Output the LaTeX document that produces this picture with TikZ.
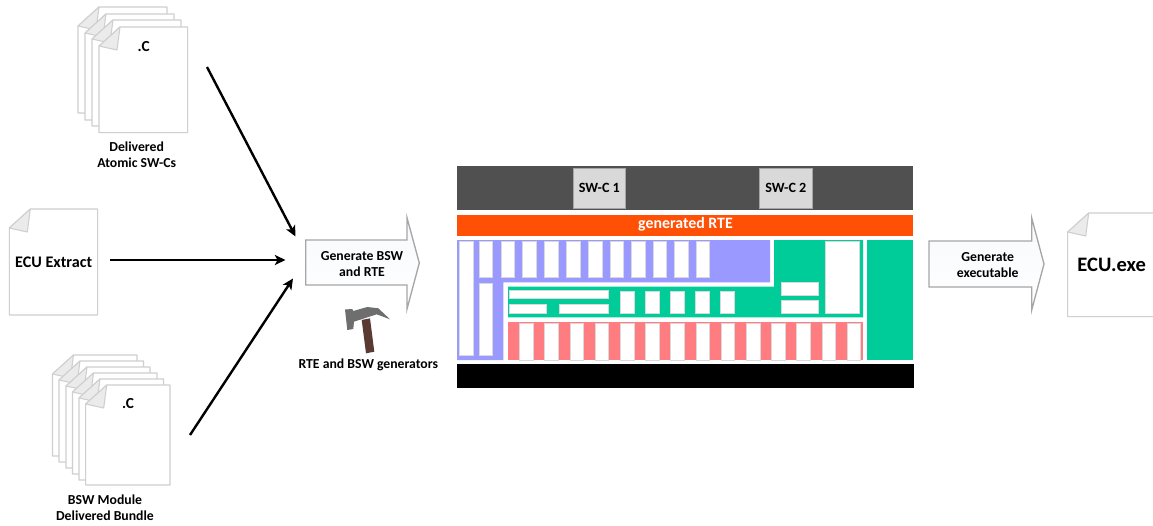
\documentclass[tikz,border=0pt]{standalone}
\usepackage{fontspec}
\setmainfont{Carlito}
\usetikzlibrary{arrows.meta}
\definecolor{sheetedge}{HTML}{CFCFCF}
\definecolor{foldfill}{HTML}{EBEBEB}
\definecolor{darkbar}{HTML}{505050}
\definecolor{swcfill}{HTML}{D9D9D9}
\definecolor{rteorange}{HTML}{FF5005}
\definecolor{bswblue}{HTML}{9999FF}
\definecolor{bswgreen}{HTML}{00CC99}
\definecolor{bswpink}{HTML}{FF7C80}
\definecolor{arrowedge}{HTML}{A6A6A6}
\definecolor{arrowfill}{HTML}{F7F9FC}
\definecolor{hammerhead}{HTML}{6E6E6E}
\definecolor{hammerhandle}{HTML}{5A3A32}
\tikzset{
  x=0.75pt,y=-0.75pt,
  sheet/.style={draw=sheetedge,fill=white,line width=0.8pt,line join=round},
  fold/.style={draw=sheetedge,fill=foldfill,line width=0.8pt,line join=round},
  flow/.style={draw=black,line width=1.8pt,-{Stealth[length=8pt,width=7.5pt,inset=2pt]}},
  blockarrow/.style={draw=arrowedge,line width=1pt,left color=arrowfill,right color=white,shading angle=0,line join=miter},
  cellbar/.style={fill=white,draw=swcfill,line width=0.35pt},
  lbl/.style={font=\fontsize{10.3}{12}\selectfont\bfseries,align=center,text=black,inner sep=0pt},
  swc/.style={fill=swcfill,draw=arrowedge,line width=0.6pt,minimum width=39.5pt,minimum height=30pt,inner sep=0pt,font=\fontsize{10.6}{12}\selectfont\bfseries},
}
% sheet: left, top, right, bottom
\newcommand{\papersheet}[4]{%
  \path[sheet] (#1+21,#2) -- (#3,#2) -- (#3,#4) -- (#1,#4) -- (#1,#2+19) -- cycle;
  \path[fold] (#1+21,#2) -- (#1,#2+19) -- (#1+18,#2+23) -- cycle;
}
\newcommand{\whitebar}[4]{\path[cellbar] (#1,#2) rectangle (#3,#4);}
\begin{document}
\begin{tikzpicture}
\useasboundingbox (0,0) rectangle (1153,525);
\path[fill=white] (0,0) rectangle (1153,525);

% Delivered Atomic SW-Cs
\papersheet{78}{7}{167}{113}
\papersheet{85}{14}{174}{120}
\papersheet{92}{20}{181}{126}
\papersheet{99}{27}{187.7}{132.7}
\node[lbl,font=\fontsize{11.5}{13}\selectfont\bfseries] (dotc1) at (143.7,47) {.C};
\node[lbl] (swcs) at (136.7,154.7) {Delivered\\Atomic SW-Cs};

% ECU Extract
\papersheet{9.3}{209}{97.7}{315}
\node[lbl,font=\fontsize{12.1}{14}\selectfont\bfseries] (extract) at (53.7,262) {ECU Extract};

% BSW bundle
\papersheet{52.5}{355}{137}{456}
\papersheet{59}{361}{143.5}{462}
\papersheet{66}{367}{150}{468}
\papersheet{72.5}{373}{157}{474}
\papersheet{79}{379}{163.5}{480}
\papersheet{85.7}{385}{170}{485}
\node[lbl,font=\fontsize{11.5}{13}\selectfont\bfseries] (dotc2) at (128,404) {.C};
\node[lbl] (bundle) at (105,508) {BSW Module\\Delivered Bundle};

% Connectors
\coordinate (a1s) at (207,67);
\coordinate (a1e) at (295.5,236.5);
\coordinate (a2s) at (110,260);
\coordinate (a2e) at (285.5,260);
\coordinate (a3s) at (190,435);
\coordinate (a3e) at (293,278.5);
\draw[flow] (a1s) -- (a1e);
\draw[flow] (a2s) -- (a2e);
\draw[flow] (a3s) -- (a3e);

% Generate BSW and RTE
\path[blockarrow] (305.7,240) -- (407,240) -- (407,217.7) -- (419.3,263) -- (407,309) -- (407,285) -- (305.7,285) -- cycle;
\node[lbl] (genbsw) at (362,263.7) {Generate BSW\\and RTE};

% Hammer
\path[fill=hammerhandle] (361.7,320) -- (370,318.3) -- (374.3,351.7) -- (366,353.3) -- cycle;
\path[fill=hammerhead] (345,309.5) -- (352.3,309) -- (353.3,311) -- (367.3,307) -- (378.3,308.3) -- (390,319.3) -- (376.7,314.3) -- (354,321.7) -- (353.3,329) -- (347.3,330) -- cycle;
\node[lbl] (gens) at (368.3,365) {RTE and BSW generators};

% Software stack
\path[fill=darkbar] (456.7,166) rectangle (913.3,210);
\node[swc] (swc1) at (599.3,188.3) {SW-C 1};
\node[swc] (swc2) at (785.8,188.3) {SW-C 2};
\path[fill=rteorange] (456.7,214.7) rectangle (913.3,236);
\node[font=\fontsize{11.9}{14}\selectfont\bfseries,text=white,inner sep=0pt] (rte) at (685.5,224.5) {generated RTE};

% blue block
\path[fill=bswblue] (457,240) -- (770,240) -- (770,282.3) -- (503.3,282.3) -- (503.3,360) -- (457,360) -- cycle;
\whitebar{459.7}{241.7}{473.3}{355}
\whitebar{479}{241.7}{492.7}{277.7}
\whitebar{479}{283.3}{492.7}{355}
\foreach \bx in {501,522.7,544.7,566.7,588.3,610,631.3,653,674.3,696}
  {\whitebar{\bx}{241.7}{\bx+13.6}{277.7}}

% green block
\path[fill=bswgreen] (508,286.7) -- (774,286.7) -- (774,240) -- (863,240) -- (863,317.3) -- (508,317.3) -- cycle;
\whitebar{509.3}{290}{608.3}{298.7}
\whitebar{509.3}{304.3}{546.7}{313.7}
\whitebar{559.7}{304.3}{608.3}{313.7}
\foreach \bx in {620,645,670.5,695.7,720.7}
  {\whitebar{\bx}{291}{\bx+14}{313.7}}
\whitebar{781.3}{282.3}{818}{295.7}
\whitebar{781.3}{300.3}{818}{313.7}
\whitebar{825.7}{241.3}{859}{313.7}
\path[fill=bswgreen] (867,240) rectangle (913.3,360);

% pink block
\path[fill=bswpink] (508,322) rectangle (863,360);
\foreach \bx in {519.3,544.7,570,595,620.3,645.3,670.5,696,721,746.3,771.7,796.7,822,847}
  {\whitebar{\bx}{323.3}{\bx+13.7}{360}}

% black bar
\path[fill=black] (456.7,364) rectangle (914,388.3);

% Generate executable
\path[blockarrow] (929,241) -- (1031.7,241) -- (1031.7,218) -- (1044,264) -- (1031.7,310) -- (1031.7,287) -- (929,287) -- cycle;
\node[lbl] (genexe) at (987.7,264.7) {Generate\\executable};

% ECU.exe
\begin{scope}
\clip (1060,205) rectangle (1153,325);
\papersheet{1067.7}{213}{1158}{316.7}
\end{scope}
\node[lbl,font=\fontsize{15.4}{17}\selectfont\bfseries] (exe) at (1111.7,265) {ECU.exe};
\end{tikzpicture}
\end{document}
